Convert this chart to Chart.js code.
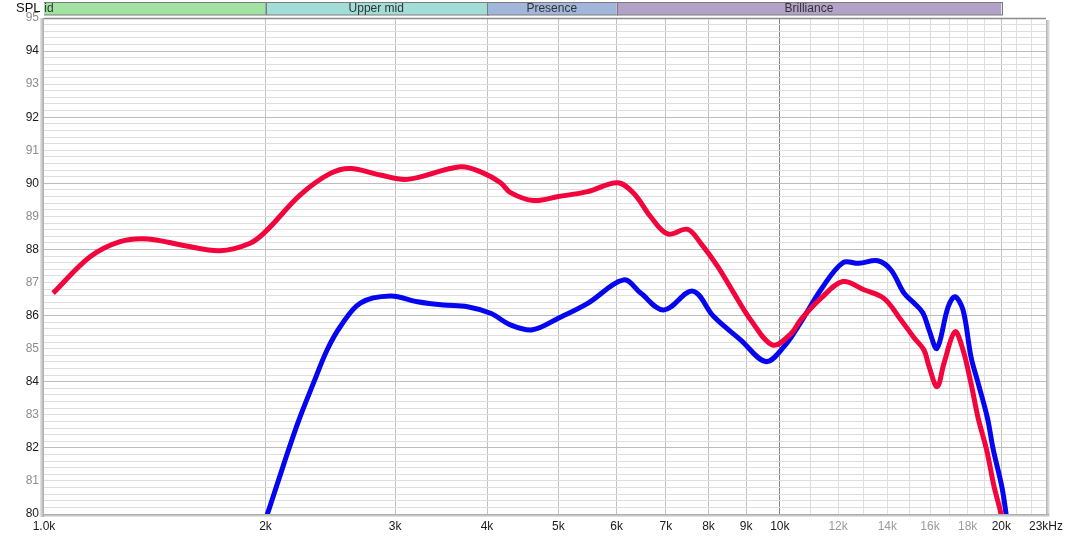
<!DOCTYPE html>
<html>
<head>
<meta charset="utf-8">
<script src="https://cdn.jsdelivr.net/npm/chart.js@4.4.1/dist/chart.umd.min.js"></script>
<style>
  html, body { margin: 0; padding: 0; background: #fff; }
  #wrap { width: 1068px; height: 539px; }
</style>
</head>
<body>
<div id="wrap"><canvas id="spl" width="1068" height="539"></canvas></div>
<script>
/* ── Data ───────────────────────────────────────────────────── */
const redFreq = [1029, 1155, 1269, 1385, 1555, 1735, 1906, 2000, 2230, 2450, 2609, 2865, 3118, 3681, 3956,
                 4173, 4305, 4627, 5000, 5481, 6020, 6330, 6675, 7040, 7495, 7805, 8235, 8660, 9130, 9780,
                 10350, 10680, 11370, 12180, 13010, 13850, 14610, 15220, 15700, 15950, 16360, 16720, 17300,
                 17740, 18190, 18600, 19100, 19550, 19980, 20250];
const redSpl  = [86.68, 87.78, 88.24, 88.32, 88.11, 87.96, 88.19, 88.54, 89.65, 90.30, 90.45, 90.25, 90.12, 90.50, 90.31,
                 90.02, 89.72, 89.48, 89.60, 89.75, 90.02, 89.70, 88.99, 88.47, 88.61, 88.19, 87.48, 86.68, 85.87, 85.11,
                 85.45, 85.88, 86.52, 87.03, 86.78, 86.52, 85.87, 85.33, 84.96, 84.46, 83.85, 84.57, 85.51,
                 84.96, 83.95, 82.90, 81.94, 80.83, 80.00, 79.20];

const blueFreq = [2000, 2115, 2215, 2323, 2425, 2528, 2691, 2957, 3218, 3491, 3763, 4045, 4305, 4612, 5000,
                  5481, 6135, 6470, 6954, 7613, 8131, 8850, 9570, 10130, 10680, 11370, 12180, 12810, 13590,
                  14160, 14750, 15220, 15650, 15950, 16350, 16930, 17300, 17740, 18190, 18600, 19150, 19500,
                  20030, 20300, 20500];
const blueSpl  = [79.82, 81.47, 82.78, 83.95, 84.96, 85.67, 86.38, 86.59, 86.42, 86.32, 86.27, 86.07, 85.72, 85.57, 85.92,
                  86.37, 87.08, 86.68, 86.17, 86.74, 85.97, 85.26, 84.61, 85.06, 85.80, 86.78, 87.60, 87.58, 87.66,
                  87.38, 86.68, 86.38, 86.08, 85.57, 85.01, 86.26, 86.57, 86.17, 84.75, 83.96, 82.90, 81.95,
                  80.83, 80.00, 79.30];

const xTickValues = [1000, 2000, 3000, 4000, 5000, 6000, 7000, 8000, 9000, 10000,
                     11000, 12000, 13000, 14000, 15000, 16000, 17000, 18000, 19000, 20000, 21000, 22000, 23000];
const xTickLabels = { 1000: '1.0k', 2000: '2k', 3000: '3k', 4000: '4k', 5000: '5k', 6000: '6k', 7000: '7k',
                      8000: '8k', 9000: '9k', 10000: '10k', 12000: '12k', 14000: '14k', 16000: '16k',
                      18000: '18k', 20000: '20k', 23000: '23kHz' };
const xGreyLabels = [12000, 14000, 16000, 18000];
const yTickLabels = [80, 81, 82, 83, 84, 85, 86, 87, 88, 89, 90, 91, 92, 93, 94, 95];

const bandNames  = ['Mid', 'Upper mid', 'Presence', 'Brilliance'];
const bandEdges  = [500, 2000, 4000, 6000, 20000];
const bandColors = ['#a2e2a2', '#a2ddd8', '#a2b6dc', '#b3a2c8'];

const FONT = 'Liberation Sans, Arial, sans-serif';

const toPoints = (fs, vs) => fs.map((f, i) => ({ x: f, y: vs[i] }));
const isInt = v => Math.abs(v - Math.round(v)) < 1e-6;

/* ── Band strip, SPL caption and plot frame ─────────────────── */
const decorPlugin = {
  id: 'decor',
  beforeDraw(chart) {
    const { ctx, chartArea: a, scales: { x } } = chart;
    ctx.save();
    ctx.font = '13px ' + FONT;
    ctx.fillStyle = '#111';
    ctx.textAlign = 'left';
    ctx.textBaseline = 'middle';
    ctx.fillText('SPL', 16, 8.5);

    ctx.font = '12px ' + FONT;
    ctx.beginPath();
    ctx.rect(a.left, 0, a.right - a.left, a.top);
    ctx.clip();
    bandNames.forEach((name, i) => {
      const x0 = x.getPixelForValue(bandEdges[i]);
      const x1 = x.getPixelForValue(bandEdges[i + 1]);
      ctx.fillStyle = bandColors[i];
      ctx.fillRect(x0, 2.5, x1 - x0, 12.5);
      ctx.strokeStyle = '#7c7c7c';
      ctx.lineWidth = 1;
      ctx.strokeRect(Math.round(x0) + 0.5, 2.5, Math.round(x1 - x0), 12.5);
      ctx.fillStyle = '#333';
      ctx.textAlign = 'center';
      ctx.fillText(name, (x0 + x1) / 2, 9);
    });
    ctx.restore();
  },
  afterDatasetsDraw(chart) {
    const { ctx, chartArea: a } = chart;
    ctx.save();
    // sunken frame
    let g = ctx.createLinearGradient(a.left - 4, 0, a.left, 0);
    g.addColorStop(0, '#e8e8e8');
    g.addColorStop(1, '#a8a8a8');
    ctx.fillStyle = g;
    ctx.fillRect(a.left - 4, a.top, 4, a.bottom - a.top + 3);
    g = ctx.createLinearGradient(a.right, 0, a.right + 4, 0);
    g.addColorStop(0, '#b0b0b0');
    g.addColorStop(1, '#f2f2f2');
    ctx.fillStyle = g;
    ctx.fillRect(a.right, a.top + 2, 4, a.bottom - a.top + 1);
    g = ctx.createLinearGradient(0, a.bottom, 0, a.bottom + 3);
    g.addColorStop(0, '#a0a0a0');
    g.addColorStop(1, '#eeeeee');
    ctx.fillStyle = g;
    ctx.fillRect(a.left, a.bottom, a.right - a.left + 3, 3);
    ctx.strokeStyle = '#8c8c8c';
    ctx.lineWidth = 1.5;
    ctx.beginPath();
    ctx.moveTo(a.left, a.top + 0.5);
    ctx.lineTo(a.right, a.top + 0.5);
    ctx.stroke();
    ctx.restore();
  }
};

/* ── Chart ──────────────────────────────────────────────────── */
new Chart(document.getElementById('spl'), {
  type: 'line',
  data: {
    datasets: [
      {
        label: 'Red',
        data: toPoints(redFreq, redSpl),
        borderColor: '#f2053c',
        borderWidth: 5,
        pointRadius: 0,
        tension: 0.35,
        clip: 0
      },
      {
        label: 'Blue',
        data: toPoints(blueFreq, blueSpl),
        borderColor: '#0505f0',
        borderWidth: 5,
        pointRadius: 0,
        tension: 0.35,
        clip: 0
      }
    ]
  },
  options: {
    responsive: false,
    animation: false,
    events: [],
    layout: { padding: { top: 18, right: 21, left: 0, bottom: 0 } },
    plugins: { legend: { display: false }, tooltip: { enabled: false } },
    scales: {
      x: {
        type: 'logarithmic',
        min: 1000,
        max: 23000,
        afterBuildTicks: s => { s.ticks = xTickValues.map(v => ({ value: v })); },
        afterFit: s => { s.height = 25; },
        border: { display: false },
        grid: {
          drawTicks: false,
          color: c => {
            const v = c.tick.value;
            if (v === 1000 || v === 23000) return 'rgba(0,0,0,0)';
            if (v === 10000) return '#858585';
            if (v < 10000 || v === 20000) return '#c0c0c0';
            return '#dedede';
          }
        },
        ticks: {
          autoSkip: false,
          maxRotation: 0,
          padding: 5,
          font: { family: FONT, size: 12 },
          color: c => xGreyLabels.includes(c.tick.value) ? '#9a9a9a' : '#1a1a1a',
          callback: v => xTickLabels[v] || ''
        }
      },
      y: {
        type: 'linear',
        min: 80,
        max: 95,
        afterBuildTicks: s => {
          const t = [];
          for (let i = 0; i <= 75; i++) t.push({ value: Math.round((80 + i * 0.2) * 10) / 10 });
          s.ticks = t;
        },
        afterFit: s => { s.width = 44; },
        border: { display: false },
        grid: {
          drawTicks: false,
          color: c => {
            const v = c.tick.value;
            if (v === 95) return 'rgba(0,0,0,0)';
            return (isInt(v) && Math.round(v) % 2 === 0) ? '#bdbdbd' : '#dedede';
          }
        },
        ticks: {
          autoSkip: false,
          padding: 5,
          font: { family: FONT, size: 12 },
          color: c => (Math.round(c.tick.value) % 2 === 0) ? '#1a1a1a' : '#8c8c8c',
          callback: v => (isInt(v) && yTickLabels.includes(Math.round(v))) ? String(Math.round(v)) : ''
        }
      }
    }
  },
  plugins: [decorPlugin]
});
</script>
</body>
</html>
